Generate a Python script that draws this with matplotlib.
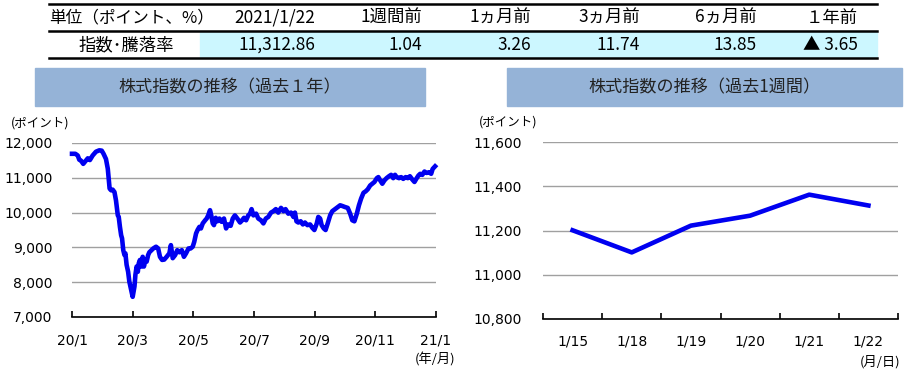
import matplotlib
matplotlib.use('Agg')
import matplotlib.pyplot as plt
from matplotlib.patches import Rectangle
from matplotlib.lines import Line2D
from matplotlib.ticker import FuncFormatter

jp = ['Noto Sans CJK JP', 'DejaVu Sans']

# table on top
hdr = ['単位（ポイント、%）', '2021/1/22', '1週間前', '1ヵ月前', '3ヵ月前', '6ヵ月前', '１年前']
row_label = '指数･騰落率'
row_vals = ['11,312.86', '1.04', '3.26', '11.74', '13.85', '▲ 3.65']

# past 1 year (x = months from 20/1)
yr_x = [0.00, 0.11, 0.19, 0.24, 0.30, 0.37, 0.46, 0.52, 0.59, 0.68, 0.79, 0.90, 0.98, 1.04,
        1.12, 1.18, 1.21, 1.24, 1.29, 1.34, 1.40, 1.45, 1.51, 1.54, 1.58, 1.62, 1.65, 1.69,
        1.73, 1.76, 1.80, 1.85, 1.89, 1.95, 2.00, 2.06, 2.09, 2.13, 2.17, 2.20, 2.24, 2.29,
        2.33, 2.37, 2.42, 2.46, 2.51, 2.55, 2.62, 2.68, 2.77, 2.84, 2.90, 2.97, 3.04, 3.12,
        3.21, 3.26, 3.32, 3.40, 3.47, 3.54, 3.62, 3.69, 3.76, 3.84, 3.91, 3.98, 4.03, 4.09,
        4.14, 4.20, 4.25, 4.31, 4.39, 4.44, 4.49, 4.55, 4.59, 4.64, 4.68, 4.74, 4.79, 4.86,
        4.93, 5.01, 5.08, 5.15, 5.23, 5.30, 5.37, 5.45, 5.54, 5.61, 5.67, 5.74, 5.81, 5.87,
        5.92, 5.98, 6.07, 6.14, 6.23, 6.31, 6.39, 6.47, 6.56, 6.64, 6.72, 6.80, 6.89, 6.97,
        7.04, 7.13, 7.22, 7.30, 7.35, 7.40, 7.46, 7.54, 7.61, 7.68, 7.76, 7.85, 7.92, 7.99,
        8.07, 8.12, 8.18, 8.23, 8.30, 8.36, 8.43, 8.51, 8.58, 8.67, 8.76, 8.84, 8.91, 9.00,
        9.09, 9.17, 9.24, 9.31, 9.39, 9.46, 9.53, 9.61, 9.68, 9.75, 9.83, 9.90, 9.97, 10.05,
        10.10, 10.16, 10.23, 10.30, 10.37, 10.45, 10.52, 10.59, 10.65, 10.70, 10.78, 10.85,
        10.92, 11.00, 11.07, 11.14, 11.22, 11.29, 11.35, 11.42, 11.48, 11.55, 11.62, 11.69,
        11.77, 11.84, 11.89, 11.97]
yr_y = [11690, 11690, 11640, 11520, 11490, 11400, 11495, 11560, 11510, 11640, 11750, 11790, 11780, 11690,
        11540, 11260, 10970, 10690, 10640, 10660, 10590, 10350, 9920, 9880, 9590, 9350, 9260, 8920,
        8780, 8830, 8500, 8300, 8020, 7780, 7580, 7880, 8210, 8450, 8300, 8540, 8640, 8450,
        8730, 8450, 8640, 8590, 8780, 8860, 8920, 8970, 9020, 8970, 8730, 8640, 8650, 8730,
        8830, 9065, 8690, 8780, 8920, 8860, 8920, 8730, 8830, 8970, 8970, 9020, 9160, 9400,
        9500, 9590, 9545, 9690, 9780, 9830, 9920, 10070, 9920, 9690, 9640, 9850, 9750, 9830,
        9735, 9830, 9545, 9660, 9620, 9830, 9920, 9830, 9715, 9780, 9850, 9780, 9920, 9970,
        10100, 9920, 9970, 9830, 9780, 9690, 9830, 9875, 10000, 10040, 10100, 10000, 10135, 10040,
        10100, 9970, 10000, 9875, 10000, 9750, 9715, 9750, 9660, 9715, 9640, 9660, 9565, 9500,
        9690, 9875, 9830, 9640, 9545, 9500, 9690, 9920, 10040, 10100, 10160, 10210, 10190, 10160,
        10135, 9970, 9780, 9750, 9970, 10210, 10400, 10570, 10610, 10670, 10780, 10830, 10880, 10990,
        11020, 10925, 10830, 10925, 10990, 11045, 11085, 10990, 11085, 11020, 10990, 11020,
        10970, 11020, 10990, 11045, 10950, 10880, 10970, 11065, 11115, 11085, 11180, 11140,
        11160, 11115, 11255, 11330]
yr_ticks = ['20/1', '20/3', '20/5', '20/7', '20/9', '20/11', '21/1']

# past 1 week
wk_labels = ['1/15', '1/18', '1/19', '1/20', '1/21', '1/22']
wk_vals = [11201, 11101, 11222, 11267, 11362, 11313]

W, H = 906, 372
fx = lambda px: px / W
fy = lambda py: 1 - py / H

blue = '#0000F0'
grid_c = '#A0A0A0'
box_c = '#95B3D7'
comma = FuncFormatter(lambda v, p: f'{int(v):,}')

fig = plt.figure(figsize=(W / 100, H / 100), dpi=100)

# ---- table ----
fig.patches.append(Rectangle((fx(200), fy(57)), fx(877) - fx(200), fy(32) - fy(57),
                             transform=fig.transFigure, color='#CCF7FF', zorder=0))
for py in [4, 31, 58]:
    fig.add_artist(Line2D([fx(49), fx(877)], [fy(py), fy(py)], color='black', lw=1.8))

fig.text(fx(49), fy(18), hdr[0], family=jp, fontsize=12, ha='left', va='center')
col_r = [315, 422, 531, 640, 757, 858]
for r, h, v in zip(col_r, hdr[1:], row_vals):
    fig.text(fx(r), fy(18), h, family=jp, fontsize=12.5, ha='right', va='center')
    fig.text(fx(r), fy(45), v, family=jp, fontsize=12.5, ha='right', va='center')
fig.text(fx(126), fy(45), row_label, family=jp, fontsize=12.5, ha='center', va='center')

# ---- title boxes ----
for x0, x1, t in [(35, 425, '株式指数の推移（過去１年）'), (507, 902, '株式指数の推移（過去1週間）')]:
    fig.patches.append(Rectangle((fx(x0), fy(106)), fx(x1) - fx(x0), fy(68) - fy(106),
                                 transform=fig.transFigure, color=box_c, zorder=0))
    fig.text(fx((x0 + x1) / 2), fy(87), t, family=jp, fontsize=12.3, ha='center', va='center',
             color='#222222')


def style(ax):
    for s in ['left', 'right', 'top']:
        ax.spines[s].set_visible(False)
    ax.spines['bottom'].set_color('black')
    ax.spines['bottom'].set_linewidth(1.2)
    ax.yaxis.grid(True, color=grid_c, lw=1)
    ax.set_axisbelow(True)
    ax.yaxis.set_major_formatter(comma)
    ax.tick_params(axis='y', length=0, pad=14, labelsize=10)


# ---- left: 1 year ----
ax1 = fig.add_axes([fx(72), fy(317), fx(436) - fx(72), fy(143) - fy(317)])
ax1.plot(yr_x, yr_y, color=blue, lw=3.3, solid_joinstyle='round', clip_on=False)
ax1.set_xlim(0, 12)
ax1.set_ylim(7000, 12000)
ax1.set_yticks(range(7000, 12001, 1000))
ax1.set_xticks(range(0, 13, 2))
ax1.set_xticklabels(yr_ticks)
style(ax1)
ax1.tick_params(axis='x', direction='in', length=4, width=1.2, pad=12, labelsize=10)
fig.text(fx(40), fy(123), '(ポイント)', family=jp, fontsize=9, ha='center', va='center')
fig.text(fx(435), fy(360), '(年/月)', family=jp, fontsize=9.5, ha='center', va='center')

# ---- right: 1 week ----
ax2 = fig.add_axes([fx(543), fy(319), fx(898) - fx(543), fy(142) - fy(319)])
ax2.plot(range(len(wk_vals)), wk_vals, color=blue, lw=3.3, solid_joinstyle='round')
ax2.set_xlim(-0.5, len(wk_vals) - 0.5)
ax2.set_ylim(10800, 11600)
ax2.set_yticks(range(10800, 11601, 200))
ax2.set_xticks(range(len(wk_vals)))
ax2.set_xticklabels(wk_labels)
ax2.set_xticks([i - 0.5 for i in range(len(wk_vals) + 1)], minor=True)
style(ax2)
ax2.tick_params(axis='y', pad=15)
ax2.tick_params(axis='x', which='major', length=0, pad=11, labelsize=10)
ax2.tick_params(axis='x', which='minor', direction='in', length=4, width=1.2)
fig.text(fx(508), fy(122), '(ポイント)', family=jp, fontsize=9, ha='center', va='center')
fig.text(fx(880), fy(362), '(月/日)', family=jp, fontsize=9.5, ha='center', va='center')

fig.savefig('out.png', dpi=100)
